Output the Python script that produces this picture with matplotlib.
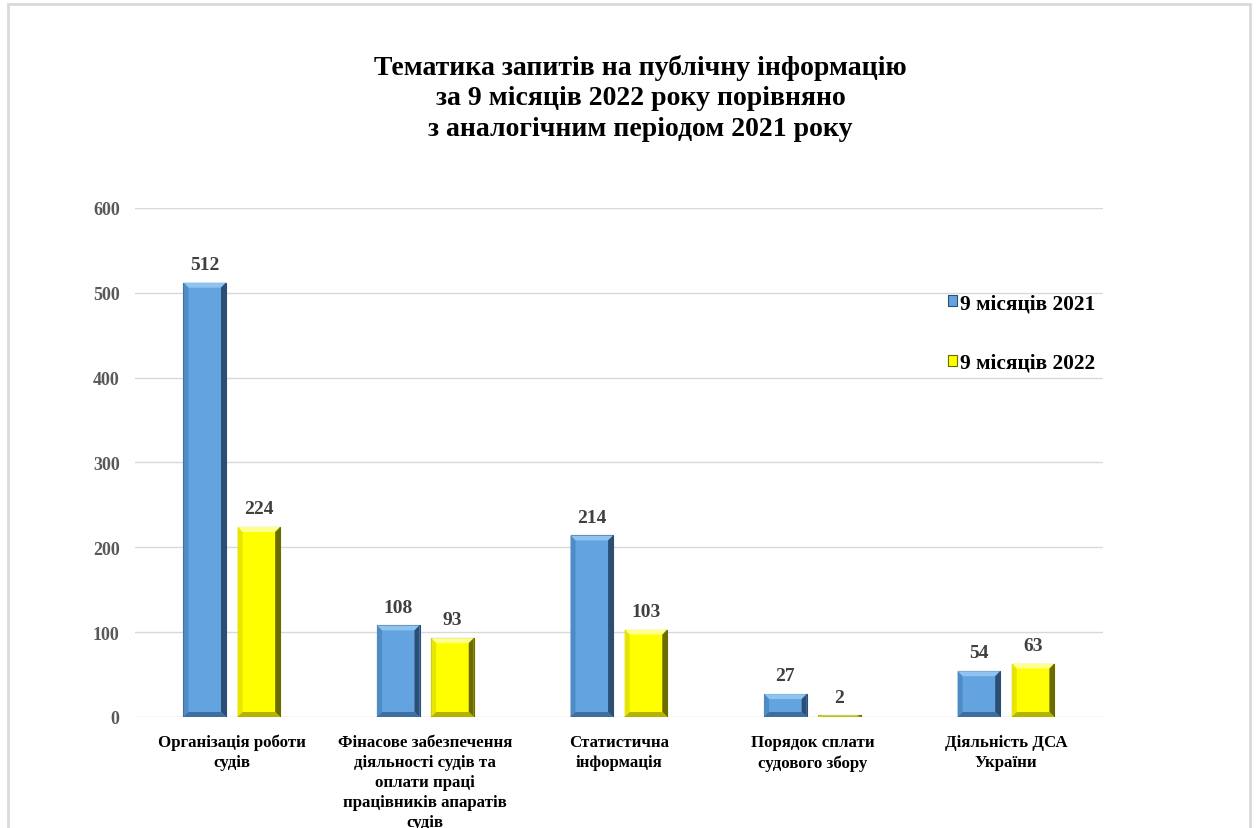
import numpy as np
import matplotlib
matplotlib.use('Agg')
import matplotlib.pyplot as plt
from matplotlib.patches import Rectangle, Polygon

categories = ['Організація роботи\nсудів',
              'Фінасове забезпечення\nдіяльності судів та\nоплати праці\nпрацівників апаратів\nсудів',
              'Статистична\nінформація',
              'Порядок сплати\nсудового збору',
              'Діяльність ДСА\nУкраїни']
y2021 = [512, 108, 214, 27, 54]
y2022 = [224, 93, 103, 2, 63]
labels = ['9 місяців 2021', '9 місяців 2022']
title = 'Тематика запитів на публічну інформацію\nза 9 місяців 2022 року порівняно\nз аналогічним періодом 2021 року'

plt.rcParams['font.family'] = ['Liberation Serif', 'DejaVu Serif']
plt.rcParams['font.weight'] = 'bold'

fig = plt.figure(figsize=(12.56, 8.29), dpi=100)
ax = fig.add_axes([0.1075, 0.1339, 0.7705, 0.614])

# рамка навколо діаграми
fig.patches.append(Rectangle((0.006, -0.05), 0.989, 1.044, transform=fig.transFigure,
                             fill=False, edgecolor='#d9d9d9', linewidth=2))

ax.set_xlim(-0.5, len(categories) - 0.5)
ax.set_ylim(0, 600)

x = np.arange(len(categories))
w = 0.22
b1 = ax.bar(x - 0.14, y2021, w, color='#62a3e0', edgecolor='#2b4f74', linewidth=0.8,
            label=labels[0], zorder=3)
b2 = ax.bar(x + 0.14, y2022, w, color='#ffff00', edgecolor='#6b6b00', linewidth=0.8,
            label=labels[1], zorder=3)

# ефект фаски на стовпчиках
inv = ax.transData.inverted()
p0 = inv.transform((0, 0))
p1 = inv.transform((5, 5))
bx, by = p1[0] - p0[0], p1[1] - p0[1]
shades = {'#62a3e0': ['#8fc4f0', '#4f8cc6', '#2b4f74', '#3f6f9e'],
          '#ffff00': ['#ffff90', '#e6e600', '#6b6b00', '#b3b300']}
for bars, col in ((b1, '#62a3e0'), (b2, '#ffff00')):
    top_c, left_c, right_c, bot_c = shades[col]
    for r in bars:
        x0, y0 = r.get_x(), r.get_y()
        x1, y1 = x0 + r.get_width(), y0 + r.get_height()
        b = min(by, (y1 - y0) / 2)
        polys = [
            ([(x0, y1), (x1, y1), (x1 - bx, y1 - b), (x0 + bx, y1 - b)], top_c),
            ([(x0, y0), (x0, y1), (x0 + bx, y1 - b), (x0 + bx, y0 + b)], left_c),
            ([(x1, y1), (x1, y0), (x1 - bx, y0 + b), (x1 - bx, y1 - b)], right_c),
            ([(x0, y0), (x1, y0), (x1 - bx, y0 + b), (x0 + bx, y0 + b)], bot_c),
        ]
        for pts, c in polys:
            ax.add_patch(Polygon(pts, closed=True, facecolor=c, edgecolor='none', zorder=3.5))

for bars, vals in ((b1, y2021), (b2, y2022)):
    for r, v in zip(bars, vals):
        ax.annotate(str(v), (r.get_x() + r.get_width() / 2, v), xytext=(0, 7),
                    textcoords='offset points', ha='center', va='bottom',
                    fontsize=14, fontweight='bold', color='#404040')

ax.set_yticks(range(0, 601, 100))
ax.set_xticks(x)
ax.set_xticklabels(categories, fontsize=12.2, fontweight='bold', color='black',
                   linespacing=1.35)
ax.tick_params(axis='y', length=0, pad=11, labelsize=13, labelcolor='#595959')
ax.tick_params(axis='x', length=0, pad=12)
ax.grid(axis='y', color='#d9d9d9', linewidth=1, zorder=0)
ax.set_axisbelow(True)
for s in ax.spines.values():
    s.set_visible(False)

ax.legend(loc='upper left', bbox_to_anchor=(0.82, 0.87), frameon=False,
          prop={'size': 15.4, 'weight': 'bold'}, handlelength=0.42, handleheight=0.42,
          handletextpad=0.15, labelspacing=1.85)

fig.text(0.51, 0.934, title, ha='center', va='top', fontsize=20, fontweight='bold',
         linespacing=1.3)

fig.savefig('out.png', dpi=100)
